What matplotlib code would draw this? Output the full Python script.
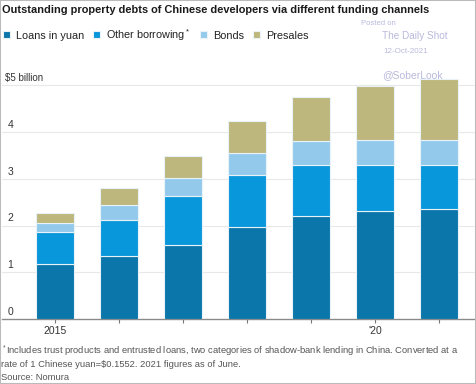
import numpy as np
import matplotlib
matplotlib.use("Agg")
import matplotlib.pyplot as plt
from matplotlib.patches import Rectangle
import matplotlib.transforms as mtransforms

# data ($ billion)
years = ["2015", "2016", "2017", "2018", "2019", "2020", "2021"]
tick_labels = ["2015", "", "", "", "", "'20", ""]
loans = [1.18, 1.35, 1.58, 1.98, 2.21, 2.32, 2.35]
other = [0.69, 0.78, 1.06, 1.10, 1.09, 0.98, 0.95]
bonds = [0.18, 0.32, 0.39, 0.47, 0.51, 0.53, 0.53]
presales = [0.23, 0.35, 0.47, 0.69, 0.94, 1.15, 1.30]
yticks = [0, 1, 2, 3, 4, 5]

series = [("Loans in yuan", loans, "#0a76aa"),
          ("Other borrowing$^*$", other, "#0797da"),
          ("Bonds", bonds, "#93caec"),
          ("Presales", presales, "#bdb77e")]

plain = ["Liberation Sans", "DejaVu Sans"]
plt.rcParams["mathtext.fontset"] = "custom"
plt.rcParams["mathtext.rm"] = "Liberation Sans"
plt.rcParams["mathtext.it"] = "Liberation Sans"

fig = plt.figure(figsize=(4.76, 3.84), dpi=100)
ax = fig.add_axes([0.004, 0.169, 0.994, 0.645])

x = np.arange(len(years))
bottom = np.zeros(len(years))
handles = []
for name, vals, col in series:
    b = ax.bar(x, vals, width=0.6, bottom=bottom, color=col, edgecolor="#e8f2f8",
               linewidth=0.8, label=name, zorder=3)
    handles.append(b)
    bottom = bottom + np.array(vals)

ax.set_xlim(-0.83, 6.56)
ax.set_ylim(0, 5.3)
for s in ["top", "right", "left"]:
    ax.spines[s].set_visible(False)
ax.spines["bottom"].set_color("#8a8a8a")
ax.spines["bottom"].set_linewidth(1.0)

ax.set_yticks(yticks[1:])
ax.yaxis.grid(True, color="#e8e8e8", linewidth=0.8, zorder=0)
ax.tick_params(axis="y", length=0, labelleft=False)
trans = mtransforms.blended_transform_factory(ax.transAxes, ax.transData)
for v in yticks:
    lab = "$5 billion" if v == 5 else str(v)
    ax.text(0.006 if v == 5 else 0.012, v + 0.05, lab, transform=trans,
            ha="left", va="bottom", fontsize=7 if v == 5 else 7.5,
            color="#333333", family=plain)

ax.set_xticks(x)
ax.set_xticklabels(tick_labels, fontsize=7.5, color="#333333", family=plain)
ax.tick_params(axis="x", length=3, width=0.8, color="#777777", pad=2)

leg = ax.legend(handles=handles, loc="upper left", bbox_to_anchor=(0.006, 0.930),
                bbox_transform=fig.transFigure, ncol=4, frameon=False,
                handlelength=0.65, handleheight=0.65, handletextpad=0.55,
                columnspacing=0.85, borderaxespad=0, borderpad=0,
                prop={"family": plain, "size": 7.8})
for t in leg.get_texts():
    t.set_color("#222222")

fig.text(0.004, 0.975, "Outstanding property debts of Chinese developers via different funding channels",
         ha="left", va="center", fontsize=7.9, fontweight="bold", color="#1a1a1a", family=plain)

wm = "#b9b9dd"
fig.text(0.758, 0.94, "Posted on", fontsize=5.5, color=wm, family=plain, va="center")
fig.text(0.803, 0.906, "The Daily Shot", fontsize=7.2, color=wm, family=plain, va="center")
fig.text(0.805, 0.867, "12-Oct-2021", fontsize=5.8, color=wm, family=plain, va="center")
fig.text(0.803, 0.804, "@SoberLook", fontsize=7.5, color=wm, family=plain, va="center")

fn = "#555555"
fig.text(0.002, 0.084, "$^*$Includes trust products and entrusted loans, two categories of shadow-bank lending in China. Converted at a",
         fontsize=6.75, color=fn, family=plain, va="center")
fig.text(0.002, 0.052, "rate of 1 Chinese yuan=\\$0.1552. 2021 figures as of June.",
         fontsize=6.75, color=fn, family=plain, va="center")
fig.text(0.002, 0.018, "Source: Nomura", fontsize=6.75, color=fn, family=plain, va="center")

fig.patches.append(Rectangle((0, 0), 1, 1, transform=fig.transFigure, fill=False,
                             edgecolor="#bbbbbb", linewidth=1.5))

fig.savefig("out.png", dpi=100)
